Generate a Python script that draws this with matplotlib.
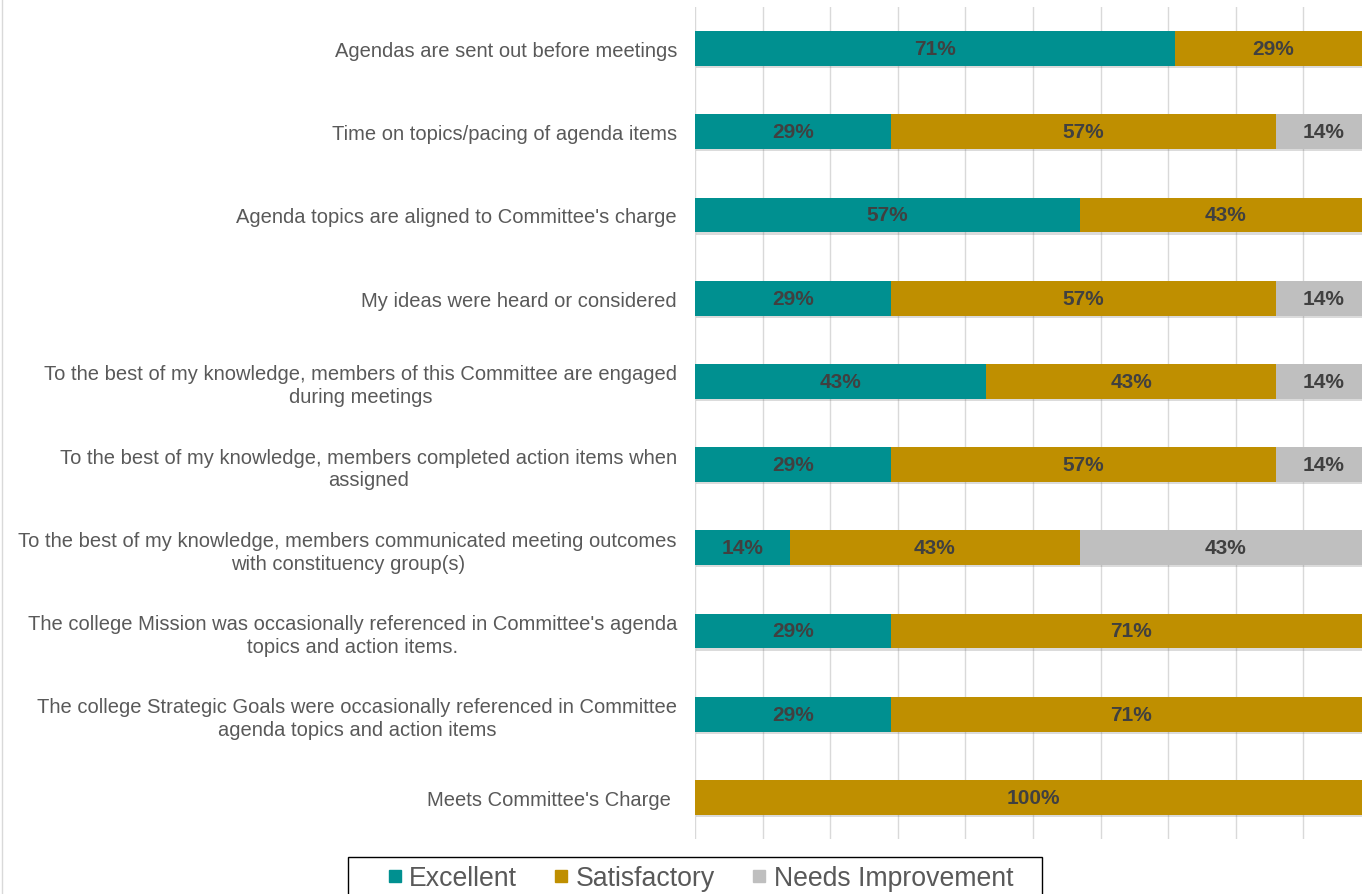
"""Committee self-evaluation survey: stacked horizontal bars (Excellent / Satisfactory / Needs Improvement)."""
import numpy as np, matplotlib
matplotlib.use("Agg"); import matplotlib.pyplot as plt
from matplotlib.lines import Line2D
from matplotlib.patches import Rectangle
from matplotlib import patheffects as pe

plt.rcParams['font.family'] = ['Liberation Sans', 'DejaVu Sans']

questions = [
    "Agendas are sent out before meetings",
    "Time on topics/pacing of agenda items",
    "Agenda topics are aligned to Committee's charge",
    "My ideas were heard or considered",
    "To the best of my knowledge, members of this Committee are engaged\nduring meetings",
    "To the best of my knowledge, members completed action items when\nassigned",
    "To the best of my knowledge, members communicated meeting outcomes\nwith constituency group(s)",
    "The college Mission was occasionally referenced in Committee's agenda\ntopics and action items.",
    "The college Strategic Goals were occasionally referenced in Committee\nagenda topics and action items",
    "Meets Committee's Charge ",
]
series = ["Excellent", "Satisfactory", "Needs Improvement"]
excellent = [71, 29, 57, 29, 43, 29, 14, 29, 29, 0]
satisfactory = [29, 57, 43, 57, 43, 57, 43, 71, 71, 100]
needs_impr = [0, 14, 0, 14, 14, 14, 43, 0, 0, 0]
colors = ['#009090', '#BF8F00', '#BFBFBF']

W, H = 1362, 895
fig = plt.figure(figsize=(W/100, H/100), dpi=100)
ax = fig.add_axes([695/W, 1-840/H, 676/W, 832/H])

y = np.arange(len(questions))
shadow = [pe.SimplePatchShadow(offset=(1, -1.5), shadow_rgbFace='#707070', alpha=0.25), pe.Normal()]
left = np.zeros(len(questions))
for vals, name, col in zip([excellent, satisfactory, needs_impr], series, colors):
    vals = np.array(vals, dtype=float)
    bars = ax.barh(y, vals, left=left, height=0.42, color=col, label=name, zorder=2)
    for b in bars:
        b.set_path_effects(shadow)
    for yi, l, v in zip(y, left, vals):
        if v > 0:
            ax.text(l + v/2, yi, f"{v:.0f}%", ha='center', va='center', fontsize=15,
                    fontweight='bold', color='#404040', zorder=3)
    left += vals

ax.set_xlim(0, 100); ax.set_ylim(len(questions) - 0.5, -0.5)
ax.set_xticks(np.arange(0, 101, 10)); ax.tick_params(axis='x', length=0, labelbottom=False)
ax.grid(axis='x', color='#D9D9D9', lw=1, zorder=0)
ax.set_yticks(y); ax.set_yticklabels(questions, fontsize=14.5, color='#595959', linespacing=1.25)
for t in ax.get_yticklabels():
    t.set_multialignment('center')
ax.tick_params(axis='y', length=0, pad=13)
for s in ax.spines.values():
    s.set_visible(False)

# legend: entries without frame, frame drawn as its own box (bottom runs off the picture)
handles = [Line2D([], [], marker='s', ls='none', ms=9, color=c) for c in colors]
leg = fig.legend(handles, series, loc='center', bbox_to_anchor=(700/W, 1-879/H), ncol=3,
                 fontsize=19.2, frameon=False, handlelength=0.6, handletextpad=0.25,
                 columnspacing=1.35, borderpad=0, borderaxespad=0)
for t in leg.get_texts():
    t.set_color('#595959')
fig.add_artist(Rectangle((348/W, -0.01), 694/W, 0.01 + 37/H, transform=fig.transFigure,
                         fill=False, edgecolor='black', lw=1.0))

fig.add_artist(Line2D([1.5/W, 1.5/W], [0, 1], color='#D9D9D9', lw=1))
fig.savefig("out.png", dpi=100)
